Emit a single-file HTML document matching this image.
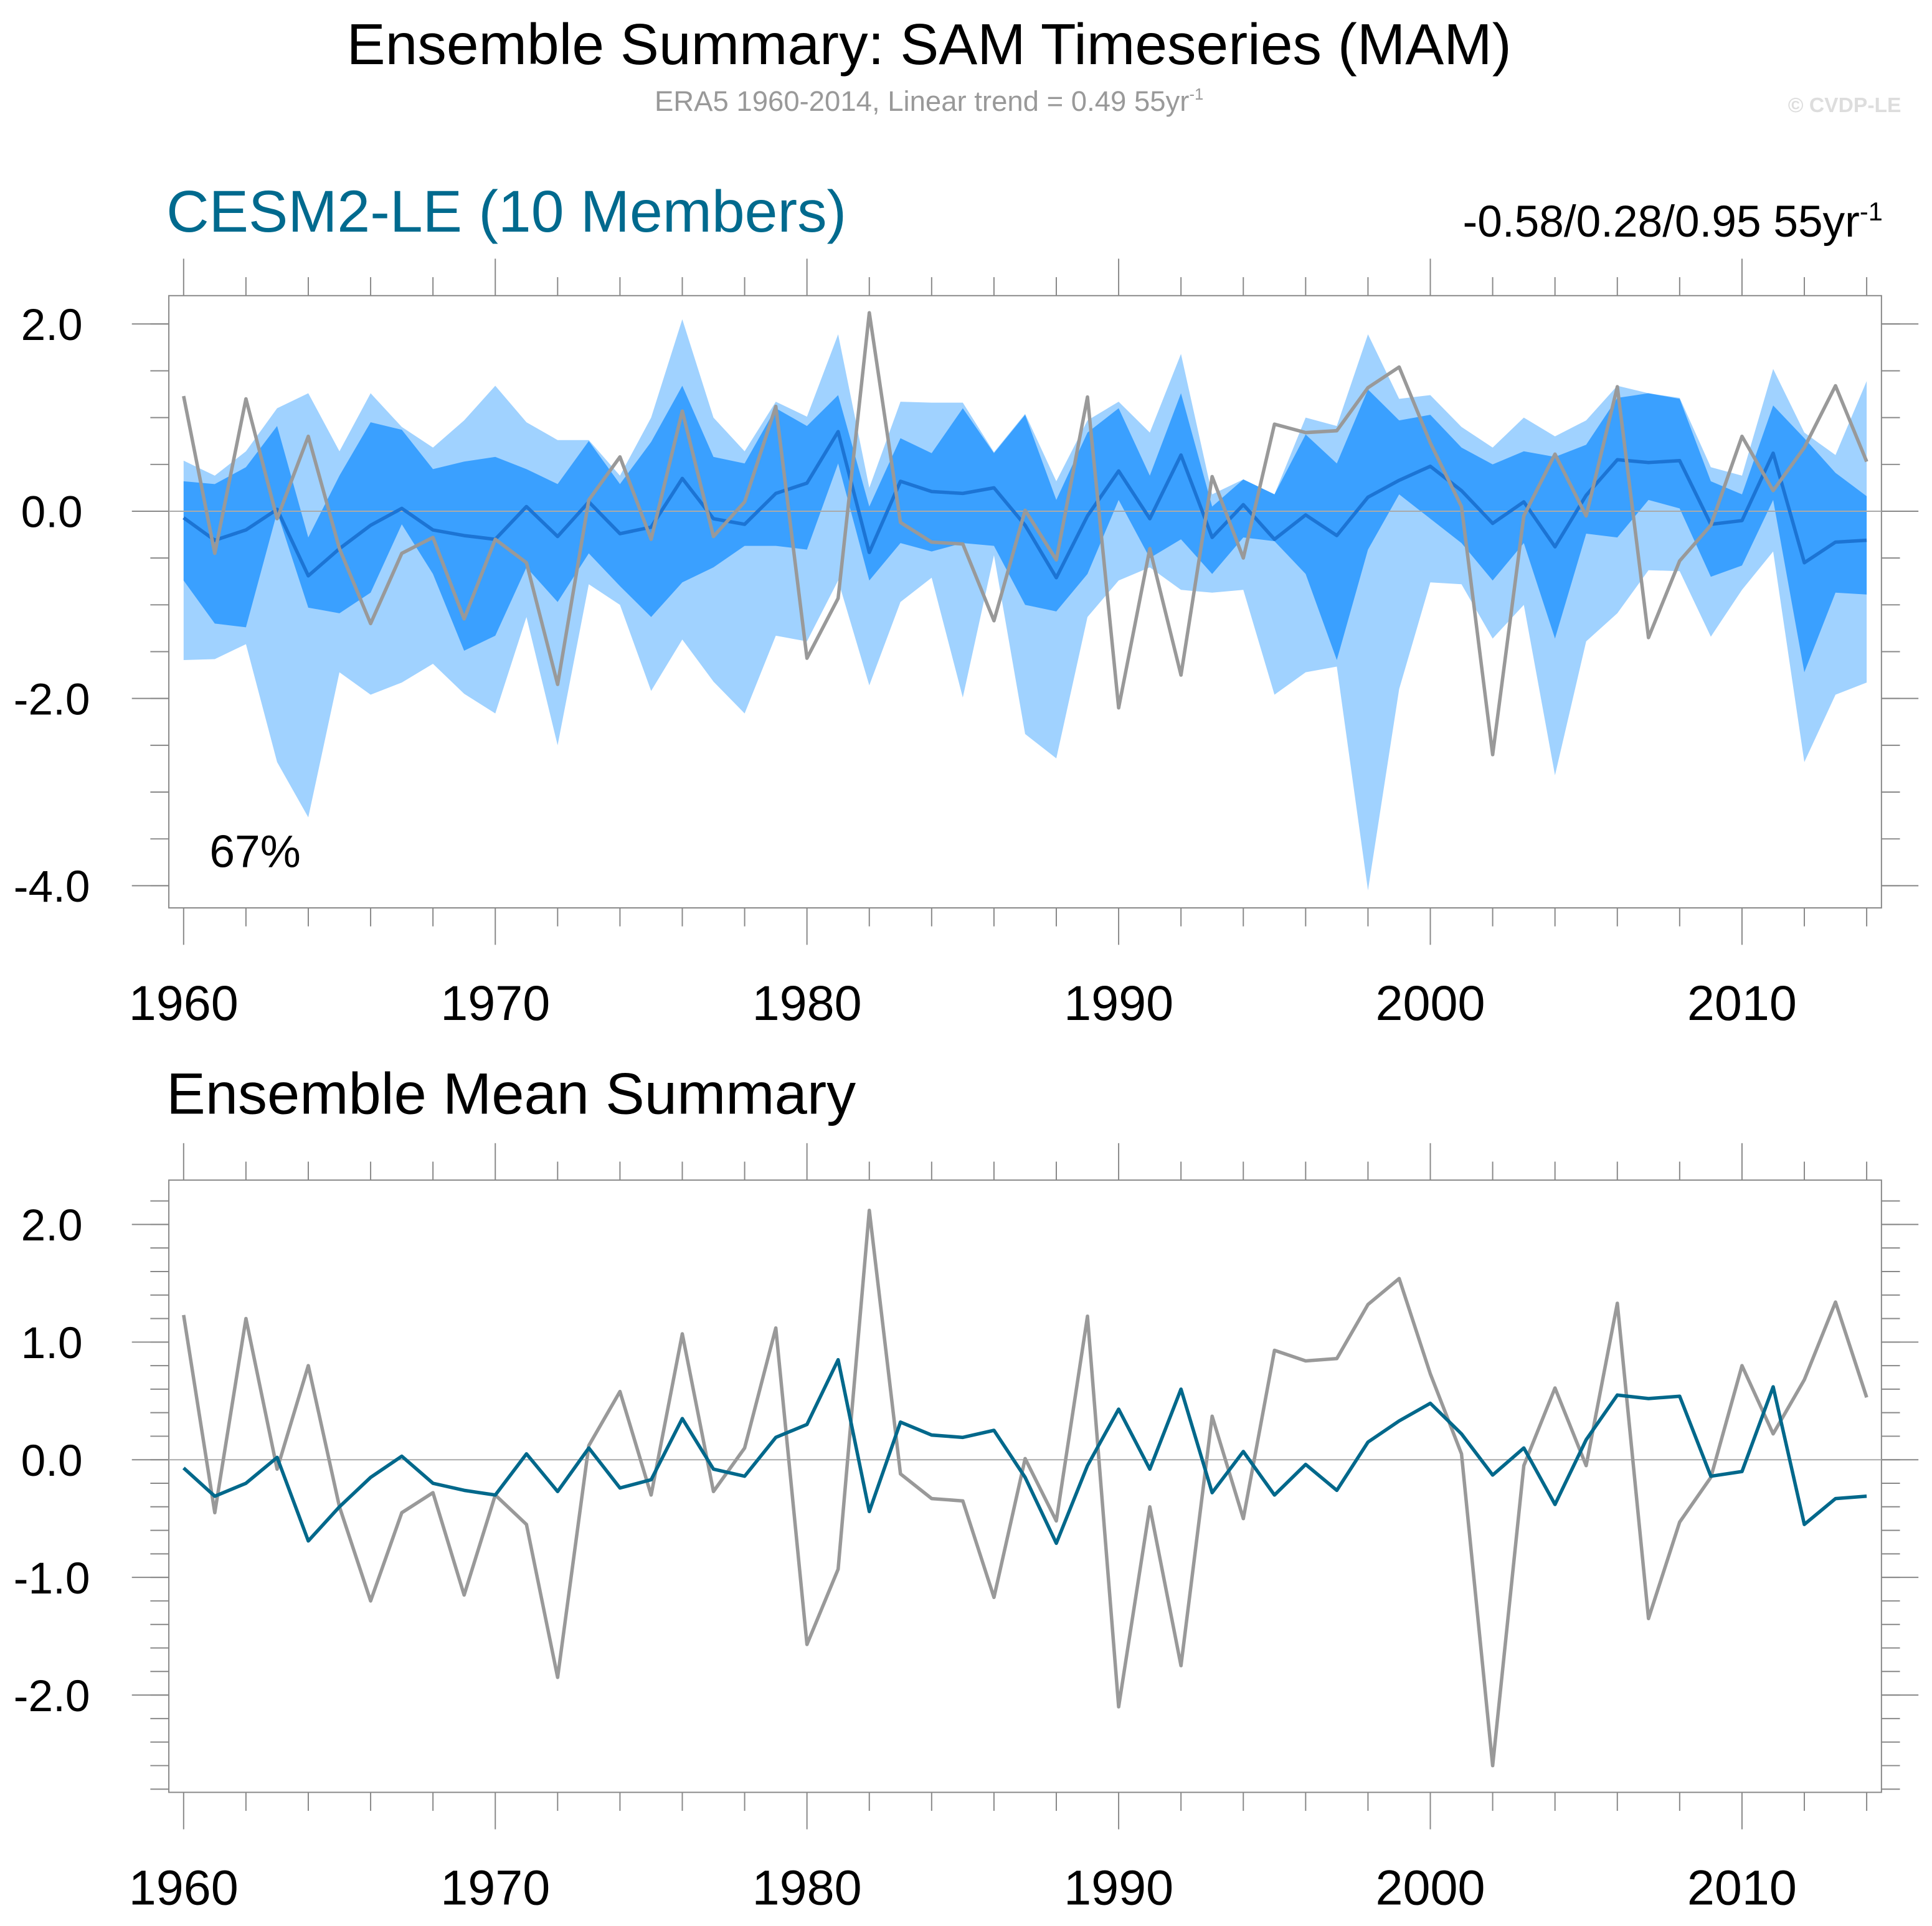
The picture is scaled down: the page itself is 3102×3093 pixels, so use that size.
<!DOCTYPE html>
<html><head><meta charset="utf-8"><style>
html,body{margin:0;padding:0;background:#fff;}
svg{display:block;font-family:"Liberation Sans",sans-serif;}
</style></head><body>
<svg id="chart" width="3102" height="3093" viewBox="0 0 1568 1563.5" xmlns="http://www.w3.org/2000/svg">
<text x="754" y="52" font-size="47" text-anchor="middle">Ensemble Summary: SAM Timeseries (MAM)</text>
<text x="754" y="90" font-size="23" fill="#999" text-anchor="middle">ERA5 1960-2014, Linear trend = 0.49 55yr<tspan dy="-9" font-size="13">-1</tspan></text>
<text x="1543" y="91" font-size="17" fill="#ddd" text-anchor="end" font-weight="bold">© CVDP-LE</text>
<text x="135" y="188" font-size="48" fill="#006a8e">CESM2-LE (10 Members)</text>
<text x="1528" y="192" font-size="36" text-anchor="end">-0.58/0.28/0.95 55yr<tspan dy="-13" font-size="21">-1</tspan></text>
<text x="135" y="904" font-size="47.5">Ensemble Mean Summary</text>
<text x="170" y="704" font-size="37">67%</text>
<g id="p1"></g><g id="p2"></g>
</svg>
<script>
const years=[];for(let y=1960;y<=2014;y++)years.push(y);
const era5=[1.23,-0.45,1.2,-0.08,0.8,-0.4,-1.2,-0.45,-0.28,-1.15,-0.3,-0.55,-1.85,0.12,0.58,-0.3,1.07,-0.27,0.1,1.12,-1.57,-0.93,2.12,-0.12,-0.33,-0.35,-1.17,0.01,-0.52,1.22,-2.1,-0.4,-1.75,0.37,-0.5,0.93,0.84,0.86,1.32,1.54,0.73,0.05,-2.6,-0.05,0.61,-0.05,1.33,-1.35,-0.53,-0.15,0.8,0.22,0.68,1.34,0.53];
const ensMean=[-0.07,-0.31,-0.2,0.02,-0.69,-0.4,-0.15,0.03,-0.2,-0.26,-0.3,0.05,-0.27,0.1,-0.24,-0.17,0.35,-0.08,-0.14,0.19,0.3,0.85,-0.44,0.32,0.21,0.19,0.25,-0.15,-0.71,-0.05,0.43,-0.08,0.6,-0.28,0.07,-0.3,-0.04,-0.26,0.15,0.33,0.48,0.22,-0.13,0.1,-0.38,0.17,0.55,0.52,0.54,-0.14,-0.1,0.62,-0.55,-0.33,-0.31];
const ensMax=[0.54,0.38,0.64,1.1,1.26,0.64,1.26,0.9,0.68,0.97,1.34,0.95,0.76,0.76,0.38,1.0,2.05,1.0,0.64,1.17,1.01,1.89,0.25,1.17,1.16,1.16,0.63,1.04,0.32,0.97,1.17,0.84,1.68,0.18,0.34,0.18,1.0,0.91,1.89,1.2,1.24,0.9,0.68,1.0,0.8,0.97,1.34,1.26,1.21,0.47,0.38,1.52,0.84,0.6,1.39];
const ensMin=[-1.59,-1.58,-1.42,-2.68,-3.27,-1.72,-1.96,-1.83,-1.63,-1.95,-2.16,-1.13,-2.5,-0.78,-1.0,-1.92,-1.37,-1.82,-2.16,-1.33,-1.39,-0.74,-1.86,-0.97,-0.71,-1.99,-0.47,-2.38,-2.64,-1.13,-0.74,-0.6,-0.84,-0.87,-0.84,-1.96,-1.72,-1.66,-4.05,-1.9,-0.76,-0.78,-1.36,-1.0,-2.82,-1.39,-1.09,-0.63,-0.64,-1.34,-0.84,-0.43,-2.68,-1.96,-1.83];
const ensHi=[0.32,0.29,0.47,0.91,-0.28,0.38,0.95,0.87,0.45,0.53,0.58,0.45,0.29,0.75,0.29,0.74,1.34,0.58,0.51,1.1,0.91,1.24,0.05,0.78,0.62,1.1,0.62,1.03,0.12,0.84,1.1,0.38,1.26,0.05,0.34,0.18,0.82,0.51,1.3,0.97,1.03,0.68,0.5,0.64,0.58,0.71,1.21,1.26,1.2,0.32,0.18,1.13,0.78,0.41,0.16];
const ensLo=[-0.74,-1.2,-1.24,-0.01,-1.03,-1.09,-0.87,-0.14,-0.67,-1.49,-1.33,-0.6,-0.97,-0.45,-0.8,-1.13,-0.76,-0.6,-0.37,-0.37,-0.41,0.51,-0.74,-0.34,-0.43,-0.34,-0.37,-1.0,-1.07,-0.67,0.12,-0.5,-0.3,-0.67,-0.28,-0.32,-0.67,-1.59,-0.41,0.18,-0.08,-0.34,-0.74,-0.34,-1.36,-0.24,-0.28,0.12,0.03,-0.7,-0.58,0.12,-1.72,-0.87,-0.89];
const xTicks=[1960,1970,1980,1990,2000,2010];
const y1Ticks=[2,0,-2,-4];
const y1Labels=["2.0","0.0","-2.0","-4.0"];
const y2Ticks=[2,1,0,-1,-2];
const y2Labels=["2.0","1.0","0.0","-1.0","-2.0"];
const NS="http://www.w3.org/2000/svg";
function mk(p,t,a){const e=document.createElementNS(NS,t);for(const k in a)e.setAttribute(k,a[k]);p.appendChild(e);return e;}
const X=y=>149+(y-1960)*(1515-149)/54;
function axes(g,top,bot,Y,yt,yl,minorStep,vTop,vBot,pfx){
  const fr=mk(g,'rect',{x:137,y:top,width:1390,height:bot-top,fill:'none',stroke:'#888','stroke-width':1});
  
  
  for(const yr of years){
    if((yr-1960)%2)continue;
    const maj=(yr%10===0),L=maj?30:15;
    mk(g,'line',{x1:X(yr),x2:X(yr),y1:top-L,y2:top,stroke:'#888'});
    mk(g,'line',{x1:X(yr),x2:X(yr),y1:bot,y2:bot+L,stroke:'#888'});
  }
  for(let v=Math.ceil(vBot/minorStep)*minorStep;v<=vTop+1e-9;v+=minorStep){
    mk(g,'line',{x1:122,x2:137,y1:Y(v),y2:Y(v),stroke:'#888'});
    mk(g,'line',{x1:1527,x2:1542,y1:Y(v),y2:Y(v),stroke:'#888'});
  }
  yt.forEach((v,i)=>{
    mk(g,'line',{x1:107,x2:137,y1:Y(v),y2:Y(v),stroke:'#888'});
    mk(g,'line',{x1:1527,x2:1557,y1:Y(v),y2:Y(v),stroke:'#888'});
    const t=mk(g,'text',{x:42,y:Y(v)+13,'font-size':36,'text-anchor':'middle'});
    
    
    t.textContent=yl[i];
  });
  xTicks.forEach(yr=>{
    const t=mk(g,'text',{x:X(yr),y:bot+91,'font-size':40,'text-anchor':'middle'});
    
    
    t.textContent=yr;
  });
  mk(g,'line',{x1:137,x2:1527,y1:Y(0),y2:Y(0),stroke:'#aaa','stroke-width':1});
}
function line(g,arr,Y,col,w,name){
  const e=mk(g,'polyline',{points:arr.map((v,i)=>X(years[i])+','+Y(v)).join(' '),fill:'none',stroke:col,'stroke-width':w,'stroke-linejoin':'round'});
  
  
}
function band(g,hi,lo,Y,col,name){
  const pts=hi.map((v,i)=>X(years[i])+','+Y(v)).concat(lo.map((v,i)=>X(years[i])+','+Y(v)).reverse());
  const e=mk(g,'polygon',{points:pts.join(' '),fill:col});
  
  
}
const g1=document.getElementById('p1');
const Y1=v=>263+(2-v)*(719-263)/6;
band(g1,ensMax,ensMin,Y1,'#a0d2ff','range-band');
band(g1,ensHi,ensLo,Y1,'#3aa0ff','percentile-band');
axes(g1,240,737,Y1,y1Ticks,y1Labels,0.5,2.3,-4.25,'panel1');
line(g1,ensMean,Y1,'#1c74d4',2.8,'ensemble-mean-line-top');
line(g1,era5,Y1,'#999',2.8,'era5-line-top');
const g2=document.getElementById('p2');
const Y2=v=>1185-v*(1185-994)/2;
axes(g2,958,1455,Y2,y2Ticks,y2Labels,0.2,2.38,-2.83,'panel2');
line(g2,era5,Y2,'#999',2.8,'era5-line-bottom');
line(g2,ensMean,Y2,'#00688b',2.8,'ensemble-mean-line-bottom');
</script>
</body></html>
